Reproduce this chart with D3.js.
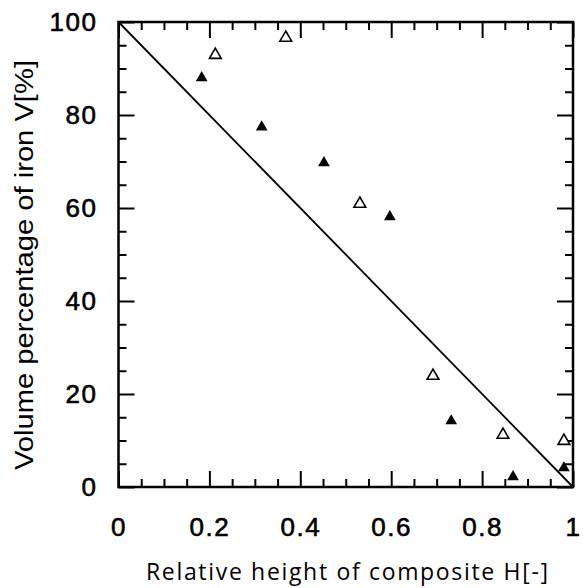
<!DOCTYPE html>
<html>
<head>
<meta charset="utf-8">
<script src="https://cdn.jsdelivr.net/npm/d3@7"></script>
<style>
    body { margin: 0; background: #fff; }
    svg text { fill: #000; }
</style>
</head>
<body>
<div id="chart"></div>
<script>
//Datos
const filledH = [0.183, 0.315, 0.452, 0.597, 0.732, 0.868, 0.98];
const filledV = [88.0, 77.4, 69.7, 58.1, 14.2, 2.2, 4.1];
const openH = [0.213, 0.368, 0.531, 0.692, 0.846, 0.98];
const openV = [92.9, 96.6, 60.9, 23.9, 11.2, 9.9];
const lineH = [0, 1];
const lineV = [100, 0];
const xTicks = [0, 0.2, 0.4, 0.6, 0.8, 1];
const yTicks = [0, 20, 40, 60, 80, 100];

let margin = {top: 22, right: 10, bottom: 101, left: 118.5},
    width = 583 - margin.left - margin.right,
    height = 588 - margin.top - margin.bottom;

let svg = d3.select("#chart")
    .append("svg")
        .attr("width", 583)
        .attr("height", 588)
    .append("g")
        .attr("transform", "translate(" + margin.left + "," + margin.top + ")");

let x = d3.scaleLinear().domain([0, 1]).range([0, width]);
let y = d3.scaleLinear().domain([0, 100]).range([height, 0]);

//Ticks hacia dentro en los cuatro lados
let minorX = d3.range(0, 1.0001, 0.05),
    minorY = d3.range(0, 100.001, 5);

function isMajorX(d) { return Math.abs(d * 5 - Math.round(d * 5)) < 1e-6; }
function isMajorY(d) { return d % 20 == 0; }

let tickStyle = function(g) {
    g.select('.domain').remove();
    g.selectAll('.tick text').remove();
    g.selectAll('.tick line').attr('stroke', '#000').attr('stroke-width', 2);
};

svg.append("g").attr("transform", "translate(0," + height + ")")
    .call(d3.axisBottom(x).tickValues(minorX).tickSize(0))
    .call(tickStyle)
    .selectAll('.tick line').attr('y2', function(d) { return isMajorX(d) ? -16 : -8; });

svg.append("g")
    .call(d3.axisTop(x).tickValues(minorX).tickSize(0))
    .call(tickStyle)
    .selectAll('.tick line').attr('y2', function(d) { return isMajorX(d) ? 16 : 8; });

svg.append("g")
    .call(d3.axisLeft(y).tickValues(minorY).tickSize(0))
    .call(tickStyle)
    .selectAll('.tick line').attr('x2', function(d) { return isMajorY(d) ? 16 : 8; });

svg.append("g").attr("transform", "translate(" + width + ",0)")
    .call(d3.axisRight(y).tickValues(minorY).tickSize(0))
    .call(tickStyle)
    .selectAll('.tick line').attr('x2', function(d) { return isMajorY(d) ? -16 : -8; });

//Etiquetas de los ejes
let labelStyle = function(sel) {
    sel.attr('font-family', 'Liberation Sans, Arial, sans-serif')
        .attr('font-size', 26)
        .attr('letter-spacing', 1.5)
        .attr('stroke', '#000')
        .attr('stroke-width', 0.6);
};

svg.append("g").attr("transform", "translate(0," + height + ")")
    .call(d3.axisBottom(x).tickValues(xTicks).tickSize(0).tickPadding(31).tickFormat(function(d) { return d; }))
    .call(function(g) { g.select('.domain').remove(); })
    .selectAll('text')
        .call(labelStyle);

svg.append("g")
    .call(d3.axisLeft(y).tickValues(yTicks).tickSize(0).tickPadding(21))
    .call(function(g) { g.select('.domain').remove(); })
    .selectAll('text')
        .call(labelStyle);

//Marco
svg.append("rect")
    .attr("x", 0).attr("y", 0)
    .attr("width", width).attr("height", height)
    .attr("fill", "none")
    .attr("stroke", "#000")
    .attr("stroke-width", 2.5);

//Línea
svg.append("path")
    .datum(d3.zip(lineH, lineV))
    .attr("fill", "none")
    .attr("stroke", "#000")
    .attr("stroke-width", 1.8)
    .attr("d", d3.line().x(function(d) { return x(d[0]); }).y(function(d) { return y(d[1]); }));

//Puntos
let tri = d3.symbol().type(d3.symbolTriangle).size(60);

svg.append("g")
    .selectAll("path")
    .data(d3.zip(filledH, filledV))
    .enter()
    .append("path")
    .attr("d", tri)
    .attr("transform", function(d) { return "translate(" + x(d[0]) + "," + y(d[1]) + ")"; })
    .attr("fill", "#000");

svg.append("g")
    .selectAll("path")
    .data(d3.zip(openH, openV))
    .enter()
    .append("path")
    .attr("d", tri)
    .attr("transform", function(d) { return "translate(" + x(d[0]) + "," + y(d[1]) + ")"; })
    .attr("fill", "#fff")
    .attr("stroke", "#000")
    .attr("stroke-width", 1.6);

//Títulos
svg.append("text")
    .attr("x", 146 - margin.left)
    .attr("y", 580 - margin.top)
    .attr("font-family", "Open Sans, sans-serif")
    .attr("font-size", 23)
    .attr("textLength", 402)
    .attr("lengthAdjust", "spacing")
    .text("Relative height of composite H[-]");

svg.append("text")
    .attr("transform", "translate(" + (33 - margin.left) + "," + (265 - margin.top) + ") rotate(-90)")
    .attr("text-anchor", "middle")
    .attr("font-family", "Liberation Sans, Arial, sans-serif")
    .attr("font-size", 25)
    .attr("textLength", 410)
    .attr("lengthAdjust", "spacingAndGlyphs")
    .text("Volume percentage of iron V[%]");
</script>
</body>
</html>
